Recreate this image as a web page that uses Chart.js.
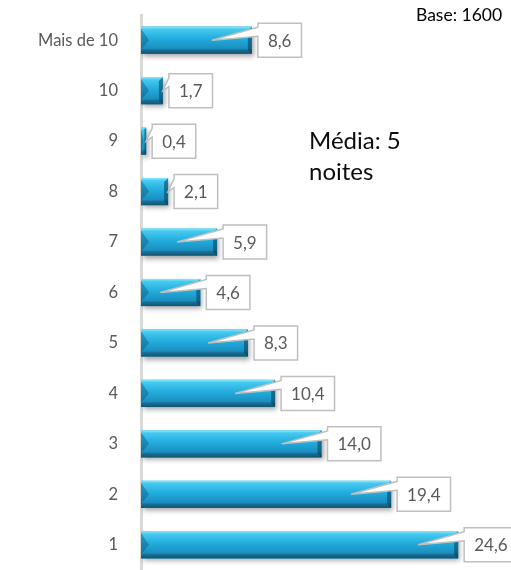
<!DOCTYPE html>
<html>
<head>
<meta charset="utf-8">
<script src="https://cdn.jsdelivr.net/npm/chart.js@4"></script>
<style>
  body { margin: 0; background: #fff; }
</style>
</head>
<body>
<canvas id="nightsChart" width="511" height="570"></canvas>
<script>
// Number of nights - share of respondents (%)
const categories = ['Mais de 10', '10', '9', '8', '7', '6', '5', '4', '3', '2', '1'];
const percentages = [8.6, 1.7, 0.4, 2.1, 5.9, 4.6, 8.3, 10.4, 14.0, 19.4, 24.6];
const valueLabels = percentages.map(v => v.toFixed(1).replace('.', ','));
const averageNote = ['Média: 5', 'noites'];
const baseNote = 'Base: 1600';

const FONT = 'Lato, Calibri, "Open Sans", sans-serif';

// soft shadow under the bars
const barShadow = {
  id: 'barShadow',
  beforeDatasetsDraw(chart) {
    const ctx = chart.ctx;
    ctx.save();
    ctx.shadowColor = 'rgba(0,0,0,0.35)';
    ctx.shadowBlur = 5;
    ctx.shadowOffsetX = 2;
    ctx.shadowOffsetY = 3;
  },
  afterDatasetsDraw(chart) {
    chart.ctx.restore();
  }
};

// bevel look on top of each bar + callout labels
const bevelAndCallouts = {
  id: 'bevelAndCallouts',
  afterDatasetsDraw(chart) {
    const ctx = chart.ctx;
    const meta = chart.getDatasetMeta(0);
    meta.data.forEach((bar, i) => {
      const left = bar.base;
      const right = bar.x;
      const h = bar.height;
      const top = bar.y - h / 2;
      const bottom = bar.y + h / 2;
      const w = right - left;

      ctx.save();
      const g = ctx.createLinearGradient(0, top, 0, bottom);
      g.addColorStop(0, '#8fe8fd');
      g.addColorStop(0.1, '#45c9f0');
      g.addColorStop(0.45, '#22acdc');
      g.addColorStop(0.8, '#1a8ebf');
      g.addColorStop(0.86, '#176f95');
      g.addColorStop(1, '#13536f');
      ctx.fillStyle = g;
      ctx.fillRect(left, top, w, h);

      // right end darker band
      const band = Math.min(4, w / 3);
      ctx.fillStyle = 'rgba(10,60,85,0.55)';
      ctx.beginPath();
      ctx.moveTo(right, top);
      ctx.lineTo(right, bottom);
      ctx.lineTo(right - band, bottom - band);
      ctx.lineTo(right - band, top + band);
      ctx.closePath();
      ctx.fill();

      // left end wedge
      const wedge = Math.min(8, w / 2);
      ctx.fillStyle = 'rgba(15,90,125,0.45)';
      ctx.beginPath();
      ctx.moveTo(left, top + 2);
      ctx.lineTo(left + wedge, bar.y);
      ctx.lineTo(left, bottom - 4);
      ctx.closePath();
      ctx.fill();
      ctx.restore();

      // callout box
      const text = valueLabels[i];
      ctx.save();
      ctx.font = '17px ' + FONT;
      const tw = ctx.measureText(text).width;
      const bx = right + 6;
      const bw = tw + 20;
      const bh = 34;
      const by = bar.y - bh / 2;
      const tipX = w > 50 ? right - 40 : right;
      const tipY = bar.y;

      ctx.beginPath();
      ctx.moveTo(bx, by);
      ctx.lineTo(bx + bw, by);
      ctx.lineTo(bx + bw, by + bh);
      ctx.lineTo(bx, by + bh);
      ctx.lineTo(bx, by + 13);
      ctx.lineTo(tipX, tipY);
      ctx.lineTo(bx, by + 4);
      ctx.closePath();
      ctx.fillStyle = '#ffffff';
      ctx.fill();
      ctx.strokeStyle = '#bfbfbf';
      ctx.lineWidth = 1.5;
      ctx.stroke();

      ctx.fillStyle = '#595959';
      ctx.textAlign = 'center';
      ctx.textBaseline = 'middle';
      ctx.fillText(text, bx + bw / 2, bar.y + 1);
      ctx.restore();
    });
  }
};

// free text notes
const notes = {
  id: 'notes',
  afterDraw(chart) {
    const ctx = chart.ctx;
    ctx.save();
    ctx.fillStyle = '#000000';
    ctx.textBaseline = 'middle';
    ctx.textAlign = 'left';
    ctx.font = '17.5px ' + FONT;
    ctx.fillText(baseNote, 416, 15);
    ctx.font = '24px ' + FONT;
    ctx.fillStyle = '#0d0d0d';
    averageNote.forEach((line, k) => {
      ctx.fillText(line, 309, 141 + k * 31);
    });
    ctx.restore();
  }
};

new Chart(document.getElementById('nightsChart'), {
  type: 'bar',
  data: {
    labels: categories,
    datasets: [{
      data: percentages,
      backgroundColor: '#1fa2d4',
      borderWidth: 0,
      barPercentage: 0.54,
      categoryPercentage: 1
    }]
  },
  options: {
    indexAxis: 'y',
    responsive: false,
    animation: false,
    layout: { padding: { top: 15, right: 9, bottom: 0, left: 0 } },
    plugins: {
      legend: { display: false },
      tooltip: { enabled: false }
    },
    scales: {
      x: {
        display: false,
        min: 0,
        max: 28
      },
      y: {
        grid: { display: false, tickLength: 23 },
        border: { display: true, color: '#d9d9d9', width: 3 },
        ticks: {
          padding: 0,
          color: '#595959',
          font: { family: FONT, size: 16.5 }
        },
        afterFit(scale) {
          scale.width = 141;
          scale.paddingTop = 0;
          scale.paddingBottom = 0;
        }
      }
    }
  },
  plugins: [barShadow, bevelAndCallouts, notes]
});
</script>
</body>
</html>
